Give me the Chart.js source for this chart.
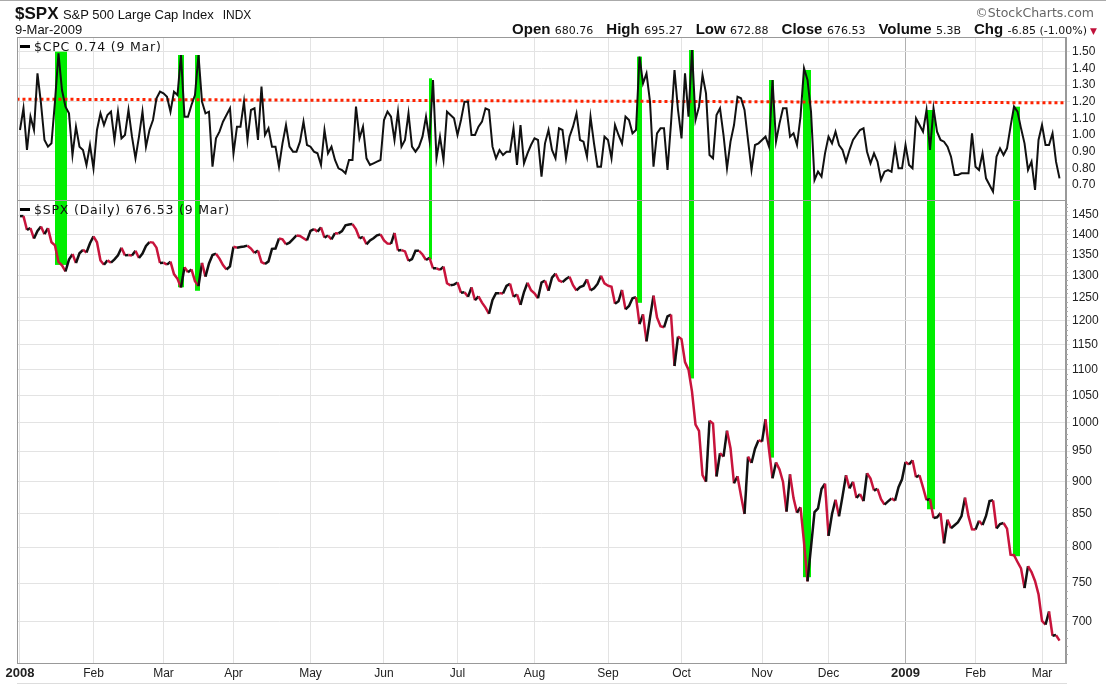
<!DOCTYPE html>
<html>
<head>
<meta charset="utf-8">
<script src="https://cdn.jsdelivr.net/npm/chart.js@4.4.0/dist/chart.umd.min.js"></script>
<style>
  html, body { margin: 0; padding: 0; background: #fff; }
  #wrap { position: relative; width: 1106px; height: 685px; overflow: hidden; font-family: Arial, "Liberation Sans", sans-serif; color: #111; }
  #chart { position: absolute; left: 0; top: 0; }
  .abs { position: absolute; white-space: nowrap; }
  .topline { position: absolute; left: 0; top: 0; width: 1106px; height: 1px; background: #aaa; }
  .botline { position: absolute; left: 17px; top: 683px; width: 1050px; height: 1px; background: #ddd; }
  .pane { font-family: "DejaVu Sans", Verdana, sans-serif; font-size: 12.5px; letter-spacing: 0.8px; color: #111; }
  .dash { display: inline-block; width: 10px; height: 3px; background: #000; vertical-align: middle; margin-right: 4px; position: relative; top: -1px; }
  .info b { font-size: 15px; font-family: Arial, "Liberation Sans", sans-serif; }
  .info span { font-size: 11px; font-family: "DejaVu Sans", Verdana, sans-serif; margin-right: 13px; }
</style>
</head>
<body>
<div id="wrap">
  <canvas id="chart" width="1106" height="685"></canvas>
  <div class="topline"></div>
  <div class="botline"></div>

  <div class="abs" style="left:15px; top:4px;"><b style="font-size:17px;">$SPX</b> <span style="font-size:13px;">S&amp;P 500 Large Cap Index</span>&nbsp; <span style="font-size:12px;">INDX</span></div>
  <div class="abs" style="left:15px; top:22px; font-size:13px;">9-Mar-2009</div>
  <div class="abs" style="right:12px; top:5px; font-size:12.5px; color:#666; font-family:'DejaVu Sans', Verdana, sans-serif;">&copy;StockCharts.com</div>
  <div class="abs info" style="right:9px; top:20px;"><b>Open</b> <span>680.76</span><b>High</b> <span>695.27</span><b>Low</b> <span>672.88</span><b>Close</b> <span>676.53</span><b>Volume</b> <span>5.3B</span><b>Chg</b> <span style="margin-right:3px;">-6.85 (-1.00%)</span><span style="color:#c0103a; font-size:9px; margin:0;">&#9660;</span></div>

  <div class="abs pane" style="left:20px; top:39px;"><span class="dash"></span>$CPC 0.74 (9 Mar)</div>
  <div class="abs pane" style="left:20px; top:202px;"><span class="dash"></span>$SPX (Daily) 676.53 (9 Mar)</div>
</div>

<script>
// x axis is the trading-day index: 0 = 2-Jan-2008 ... 297 = 9-Mar-2009
var monthStarts = [0, 21, 41, 61, 83, 104, 125, 147, 168, 189, 212, 231, 253, 273, 292];
var monthLabels = ['2008', 'Feb', 'Mar', 'Apr', 'May', 'Jun', 'Jul', 'Aug', 'Sep', 'Oct', 'Nov', 'Dec', '2009', 'Feb', 'Mar'];
var yearStarts = [0, 253];

// $SPX daily closes
var spxClose = [
  // Jan 08
  1447.16, 1447.16, 1411.63, 1416.18, 1390.19, 1409.13, 1420.33, 1401.02, 1416.25, 1380.95, 1373.20,
  1333.25, 1325.19, 1310.50, 1338.60, 1352.07, 1330.61, 1353.96, 1362.30, 1355.81, 1378.55,
  // Feb
  1395.42, 1380.82, 1336.64, 1326.45, 1336.91, 1331.29, 1339.13, 1348.86, 1367.21, 1348.86,
  1349.99, 1348.78, 1360.03, 1342.53, 1353.11, 1371.80, 1381.29, 1380.02, 1367.68, 1330.63,
  // Mar
  1331.34, 1326.75, 1333.70, 1304.34, 1293.37, 1273.37, 1320.65, 1308.77, 1315.48, 1288.14,
  1276.60, 1330.74, 1298.42, 1329.51, 1349.88, 1352.99, 1341.13, 1325.76, 1315.22, 1322.70,
  // Apr
  1370.18, 1367.53, 1369.31, 1370.40, 1372.54, 1365.54, 1354.49, 1360.55, 1332.83, 1328.32, 1334.43,
  1364.71, 1365.56, 1390.33, 1388.17, 1375.94, 1379.93, 1388.82, 1397.84, 1396.37, 1390.94, 1385.59,
  // May
  1409.34, 1413.90, 1407.49, 1418.26, 1392.57, 1397.68, 1388.28, 1403.58, 1403.04, 1408.66, 1423.57,
  1425.35, 1426.63, 1413.40, 1390.71, 1394.35, 1375.93, 1385.35, 1390.84, 1398.26, 1400.38,
  // Jun
  1385.67, 1377.65, 1377.20, 1404.05, 1360.68, 1361.76, 1358.44, 1335.49, 1339.87, 1360.03, 1360.14,
  1350.93, 1337.81, 1342.83, 1317.93, 1318.00, 1314.29, 1321.97, 1283.15, 1278.38, 1280.00,
  // Jul
  1284.91, 1261.52, 1262.90, 1252.31, 1273.70, 1244.69, 1253.39, 1239.49, 1228.30, 1214.91, 1245.36,
  1260.32, 1260.68, 1260.00, 1277.00, 1282.19, 1252.54, 1257.76, 1234.37, 1263.20, 1284.26, 1267.38,
  // Aug
  1260.31, 1249.01, 1284.88, 1289.19, 1266.07, 1296.32, 1305.32, 1289.59, 1285.83, 1292.93, 1298.20,
  1278.60, 1266.69, 1274.54, 1277.72, 1292.20, 1266.84, 1271.51, 1281.66, 1300.68, 1282.83,
  // Sep
  1277.58, 1274.98, 1236.83, 1242.31, 1267.79, 1224.51, 1232.04, 1249.05, 1251.70, 1192.70, 1213.60,
  1156.39, 1206.51, 1255.08, 1207.09, 1188.22, 1185.87, 1209.18, 1213.27, 1106.39, 1166.36,
  // Oct
  1161.06, 1114.28, 1099.23, 1056.89, 996.23, 984.94, 909.92, 899.22, 1003.35, 998.01, 907.84, 946.43,
  940.55, 985.40, 955.05, 896.78, 908.11, 876.77, 848.92, 940.51, 930.09, 954.09, 968.75,
  // Nov
  966.30, 1005.75, 952.77, 904.88, 930.99, 919.21, 898.95, 852.30, 911.29, 873.29,
  850.75, 859.12, 806.58, 752.44, 800.03, 851.81, 857.39, 887.68, 896.24,
  // Dec
  816.21, 848.81, 870.74, 845.22, 876.07, 909.70, 888.67, 899.24, 873.59, 879.73, 868.57,
  913.18, 904.42, 885.28, 887.88, 871.63, 863.16, 868.15, 872.80, 869.42, 890.64, 903.25,
  // Jan 09
  931.80, 927.45, 934.70, 906.65, 909.73, 890.35, 870.26, 871.79, 842.62, 843.74,
  850.12, 805.22, 840.24, 827.50, 831.95, 836.57, 845.71, 874.09, 845.14, 825.88,
  // Feb
  825.44, 838.51, 832.23, 845.85, 868.60, 869.89, 827.16, 833.74, 835.19, 826.84,
  789.17, 788.42, 778.94, 770.05, 743.33, 773.14, 764.90, 752.83, 735.09,
  // Mar
  700.82, 696.33, 712.87, 682.55, 683.38, 676.53
];

// $CPC put/call ratio, same days
var cpcRatio = [
  1.03, 1.16, 0.91, 1.11, 1.03, 1.37, 1.19, 0.97, 0.93, 0.95,
  1.20, 1.49, 1.27, 1.17, 1.13, 0.88, 1.05, 0.93, 0.91, 0.82,
  0.94, 0.80, 1.03, 1.13, 1.06, 1.12, 1.14, 0.97, 1.14, 0.98,
  1.00, 1.15, 0.99, 0.86, 0.99, 1.14, 0.93, 1.03, 1.09, 1.22,
  1.26, 1.25, 1.23, 1.14, 1.26, 1.24, 1.48, 1.11, 1.11, 1.18,
  1.24, 1.48, 1.20, 1.13, 1.14, 0.81, 0.98, 1.02, 1.08, 1.12,
  1.16, 0.89, 1.05, 1.05, 1.20, 0.97, 1.15, 1.16, 0.97, 1.29,
  1.00, 1.04, 0.93, 0.93, 0.81, 0.95, 1.06, 0.93, 0.90, 0.90,
  0.96, 1.08, 0.94, 0.93, 0.90, 0.89, 0.82, 1.03, 0.89, 0.93,
  0.85, 0.80, 0.79, 0.77, 0.85, 0.85, 1.17, 0.98, 1.05, 0.86,
  0.82, 0.83, 0.84, 0.85, 1.09, 1.14, 1.11, 0.97, 1.14, 0.93,
  0.97, 1.13, 0.93, 0.90, 0.93, 0.99, 1.11, 0.97, 1.33, 0.86,
  0.99, 0.85, 1.14, 1.12, 1.10, 1.00, 1.09, 1.20, 1.20, 1.00,
  1.00, 1.05, 1.08, 1.16, 1.15, 0.93, 0.86, 0.91, 0.88, 0.90,
  0.90, 1.04, 0.82, 1.06, 0.83, 0.89, 0.94, 0.98, 0.97, 0.75,
  0.95, 1.03, 0.91, 0.86, 1.04, 1.03, 0.86, 0.99, 1.05, 1.13,
  0.97, 0.96, 0.87, 1.11, 0.95, 0.81, 0.81, 0.99, 0.97, 0.86,
  1.06, 1.00, 0.95, 1.11, 1.09, 1.01, 1.03, 1.47, 1.31, 1.37,
  1.20, 0.81, 1.01, 1.04, 1.04, 0.79, 1.07, 1.39, 1.15, 0.98,
  1.37, 1.11, 1.51, 1.09, 1.17, 1.36, 1.25, 0.88, 0.86, 1.12,
  1.16, 1.00, 0.80, 0.96, 1.06, 1.23, 1.22, 1.15, 0.97, 0.79,
  0.94, 0.95, 0.97, 0.99, 0.93, 1.33, 0.96, 1.07, 1.16, 1.16,
  0.99, 1.01, 0.94, 1.11, 1.40, 1.33, 1.14, 0.73, 0.78, 0.75,
  0.89, 0.99, 0.95, 1.02, 0.94, 0.91, 0.84, 0.91, 0.97, 1.00,
  1.03, 1.04, 0.90, 0.83, 0.89, 0.84, 0.73, 0.78, 0.79, 0.78,
  0.93, 0.80, 0.80, 0.94, 0.82, 0.80, 1.10, 1.06, 1.02, 1.15,
  0.91, 1.16, 1.02, 0.97, 0.96, 0.93, 0.87, 0.76, 0.76, 0.77,
  0.77, 0.77, 1.01, 0.81, 0.79, 0.89, 0.74, 0.70, 0.66, 0.87,
  0.92, 0.88, 0.92, 1.05, 1.17, 1.14, 1.04, 0.95, 0.79, 0.84,
  0.67, 0.97, 1.06, 0.94, 0.94, 1.01, 0.84, 0.74
];

var cpcTicks = [0.70, 0.80, 0.90, 1.00, 1.10, 1.20, 1.30, 1.40, 1.50];
var spxTicks = [700, 750, 800, 850, 900, 950, 1000, 1050, 1100, 1150, 1200, 1250, 1300, 1350, 1400, 1450];

// red dotted line on the CPC pane
var trendDays = [-1, 299];
var trendLevels = [1.215, 1.193];

// green signal bars: day, CPC top, SPX bottom
var signalDays = [11.7, 46.1, 50.7, 117.4, 176.9, 191.9, 214.7, 224.9, 260.3, 284.6];
var signalCpc = [1.50, 1.48, 1.48, 1.34, 1.47, 1.51, 1.33, 1.39, 1.15, 1.17];
var signalSpx = [1326, 1274, 1266, 1339, 1239, 1082, 939, 758, 856, 787];
var signalWidths = [12, 6, 5, 3, 5, 5, 5, 8, 8, 7];

var RED = '#c8143c';
var GRID = '#e3e3e3';
var FRAME = '#999';
var tickFont = { family: 'Arial, "Liberation Sans", sans-serif', size: 12 };

function pts(values) {
  return values.map(function (v, i) { return { x: i, y: v }; });
}

var panes = {
  id: 'panes',
  beforeDatasetsDraw: function (chart) {
    var c = chart.ctx;
    var x = chart.scales.x, yc = chart.scales.cpc, ys = chart.scales.spx;
    c.save();
    // green bars joining a CPC spike to the SPX close
    c.fillStyle = '#00ee00';
    signalDays.forEach(function (d, k) {
      var px = x.getPixelForValue(d), w = signalWidths[k];
      var top = yc.getPixelForValue(signalCpc[k]);
      var bot = ys.getPixelForValue(signalSpx[k]);
      c.fillRect(Math.round(px - w / 2), top, w, bot - top);
    });
    c.restore();
  },
  afterDraw: function (chart) {
    var c = chart.ctx, a = chart.chartArea, ys = chart.scales.spx, yc = chart.scales.cpc;
    c.save();
    c.strokeStyle = FRAME;
    c.lineWidth = 1;
    c.strokeRect(a.left + 0.5, a.top + 0.5, a.right - a.left - 1, a.bottom - a.top);
    c.beginPath();
    c.moveTo(a.left, Math.round(yc.bottom) + 0.5);
    c.lineTo(a.right, Math.round(yc.bottom) + 0.5);
    c.stroke();
    // minor ticks on the price axis
    c.strokeStyle = '#aaa';
    c.beginPath();
    for (var v = 660; v <= 1480; v += 10) {
      if (v % 50 === 0) continue;
      var py = Math.round(ys.getPixelForValue(v)) + 0.5;
      c.moveTo(a.right, py);
      c.lineTo(a.right + 2, py);
    }
    c.stroke();
    c.restore();
  }
};

new Chart(document.getElementById('chart').getContext('2d'), {
  type: 'line',
  data: {
    datasets: [
      {
        label: '$CPC',
        yAxisID: 'cpc',
        data: pts(cpcRatio),
        borderColor: '#111',
        borderWidth: 2,
        pointRadius: 0,
        tension: 0
      },
      {
        label: 'level',
        yAxisID: 'cpc',
        data: trendDays.map(function (d, i) { return { x: d, y: trendLevels[i] }; }),
        borderColor: '#ff2200',
        borderWidth: 3,
        borderDash: [3, 3],
        pointRadius: 0,
        clip: 0
      },
      {
        label: '$SPX',
        yAxisID: 'spx',
        data: pts(spxClose),
        borderColor: '#111',
        borderWidth: 2.5,
        pointRadius: 0,
        tension: 0,
        segment: {
          borderColor: function (ctx) { return ctx.p1.parsed.y < ctx.p0.parsed.y ? RED : '#111'; }
        }
      }
    ]
  },
  options: {
    responsive: false,
    animation: false,
    layout: { padding: { left: 17, top: 37, right: 0, bottom: 0 } },
    plugins: { legend: { display: false }, tooltip: { enabled: false } },
    scales: {
      x: {
        type: 'linear',
        min: -0.85,
        max: 298.85,
        afterBuildTicks: function (s) { s.ticks = monthStarts.map(function (v) { return { value: v }; }); },
        afterFit: function (s) { s.height = 22; },
        ticks: {
          autoSkip: false,
          maxRotation: 0,
          padding: 3,
          color: '#222',
          font: function (ctx) {
            var yr = ctx.tick && yearStarts.indexOf(ctx.tick.value) >= 0;
            return { family: tickFont.family, size: yr ? 13 : 12, weight: yr ? 'bold' : 'normal' };
          },
          callback: function (v) {
            var k = monthStarts.indexOf(v);
            return k >= 0 ? monthLabels[k] : '';
          }
        },
        grid: {
          drawTicks: false,
          color: function (ctx) {
            return ctx.tick && ctx.tick.value === 253 ? '#b0b0b0' : GRID;
          }
        },
        border: { color: FRAME }
      },
      cpc: {
        type: 'linear',
        position: 'right',
        stack: 'panes',
        stackWeight: 163,
        min: 0.61,
        max: 1.588,
        afterBuildTicks: function (s) { s.ticks = cpcTicks.map(function (v) { return { value: v }; }); },
        afterFit: function (s) { s.width = 40; },
        ticks: {
          autoSkip: false,
          padding: 2,
          color: '#222',
          font: tickFont,
          callback: function (v) { return Number(v).toFixed(2); }
        },
        grid: { color: GRID, tickLength: 4 },
        border: { color: FRAME }
      },
      spx: {
        type: 'logarithmic',
        position: 'right',
        stack: 'panes',
        stackWeight: 463,
        min: 650,
        max: 1489.5,
        afterBuildTicks: function (s) { s.ticks = spxTicks.map(function (v) { return { value: v }; }); },
        afterFit: function (s) { s.width = 40; },
        ticks: {
          autoSkip: false,
          padding: 2,
          color: '#222',
          font: tickFont,
          callback: function (v) { return String(v); }
        },
        grid: { color: GRID, tickLength: 4 },
        border: { color: FRAME }
      }
    }
  },
  plugins: [panes]
});
</script>
</body>
</html>
